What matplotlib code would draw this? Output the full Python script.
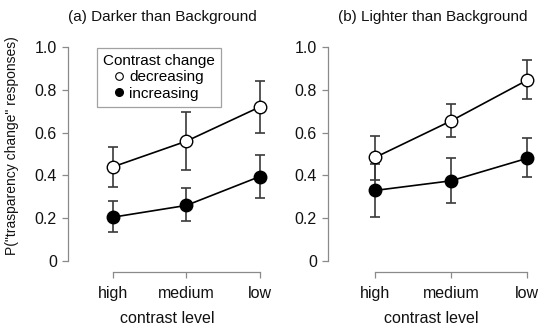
import matplotlib
matplotlib.use("Agg")
import matplotlib.pyplot as plt
from matplotlib.lines import Line2D

plt.rcParams["font.family"] = ["Liberation Sans", "DejaVu Sans"]

levels = ["high", "medium", "low"]
x_pos = [1, 2, 3]
y_ticks = [0, 0.2, 0.4, 0.6, 0.8, 1.0]
y_tick_labels = ["0", "0.2", "0.4", "0.6", "0.8", "1.0"]

# (a) darker than background
dark_dec = [0.44, 0.56, 0.72]
dark_dec_lo = [0.345, 0.425, 0.60]
dark_dec_hi = [0.535, 0.695, 0.84]
dark_inc = [0.205, 0.26, 0.395]
dark_inc_lo = [0.135, 0.185, 0.295]
dark_inc_hi = [0.28, 0.34, 0.495]

# (b) lighter than background
light_dec = [0.484, 0.655, 0.845]
light_dec_lo = [0.38, 0.58, 0.755]
light_dec_hi = [0.585, 0.735, 0.94]
light_inc = [0.33, 0.375, 0.48]
light_inc_lo = [0.205, 0.27, 0.395]
light_inc_hi = [0.455, 0.48, 0.575]

AXIS_COL = "#8a8a8a"
ERR_COL = "#3a3a3a"

fig = plt.figure(figsize=(5.5, 3.32), dpi=100)
W, H = 550.0, 332.0


def make_axes(left_px, px_per_unit, xmin, xmax):
    bottom_px = 272.0
    top_px = 36.3
    width_px = (xmax - xmin) * px_per_unit
    ax = fig.add_axes([left_px / W, (H - bottom_px) / H, width_px / W, (bottom_px - top_px) / H])
    ax.set_xlim(xmin, xmax)
    ax.set_ylim(-0.051, 1.05)
    return ax


def draw_series(ax, y, lo, hi, face):
    yerr = [[v - l for v, l in zip(y, lo)], [h - v for v, h in zip(y, hi)]]
    ax.errorbar(x_pos, y, yerr=yerr, fmt="none", ecolor=ERR_COL, elinewidth=1.2,
                capsize=3.6, capthick=1.2, zorder=2)
    ax.plot(x_pos, y, color="black", linewidth=1.2, marker="o", markersize=9,
            markerfacecolor=face, markeredgecolor="black", markeredgewidth=1.0, zorder=3)


def style_axes(ax, title, title_x):
    for side in ["top", "right"]:
        ax.spines[side].set_visible(False)
    for side in ["left", "bottom"]:
        ax.spines[side].set_color(AXIS_COL)
        ax.spines[side].set_linewidth(0.9)
    ax.spines["left"].set_bounds(0, 1)
    ax.spines["bottom"].set_bounds(1, 3)
    ax.set_yticks(y_ticks)
    ax.set_yticklabels(y_tick_labels)
    ax.set_xticks(x_pos)
    ax.set_xticklabels(levels)
    ax.tick_params(axis="both", color=AXIS_COL, length=4, width=0.9, labelsize=11.5,
                   labelcolor="#111111")
    ax.tick_params(axis="x", pad=6)
    ax.tick_params(axis="y", pad=4)
    ax.set_xlabel("contrast level", fontsize=11.5, labelpad=7.5, color="#111111")
    fig.text(title_x / W, 1 - 17 / H, title, ha="center", va="center", fontsize=11,
             color="#111111")


ax1 = make_axes(68, 73.5, 0.39, 3.1)
draw_series(ax1, dark_dec, dark_dec_lo, dark_dec_hi, "white")
draw_series(ax1, dark_inc, dark_inc_lo, dark_inc_hi, "black")
style_axes(ax1, "(a) Darker than Background", 162)

ax2 = make_axes(328, 76.0, 0.38, 3.1)
draw_series(ax2, light_dec, light_dec_lo, light_dec_hi, "white")
draw_series(ax2, light_inc, light_inc_lo, light_inc_hi, "black")
style_axes(ax2, "(b) Lighter than Background", 433)

fig.text(12 / W, 1 - 146 / H, "P(\"trasparency change\" responses)", rotation=90,
         ha="center", va="center", fontsize=10, color="#111111")

handles = [
    Line2D([], [], linestyle="none", marker="o", markersize=5.5, markerfacecolor="white",
           markeredgecolor="black", markeredgewidth=0.8),
    Line2D([], [], linestyle="none", marker="o", markersize=5.5, markerfacecolor="black",
           markeredgecolor="black"),
]
leg = ax1.legend(handles, ["decreasing", "increasing"], title="Contrast change",
                 loc="upper left", bbox_to_anchor=((97 - 68) / 199.3, 1.0 - (48 - 36.3) / 235.7),
                 fontsize=11, title_fontsize=11, frameon=True, fancybox=False,
                 handlelength=0.6, handletextpad=0.4, borderpad=0.4, labelspacing=0.15,
                 borderaxespad=0)
leg.get_frame().set_edgecolor(AXIS_COL)
leg.get_frame().set_linewidth(0.9)

fig.savefig("out.png", dpi=100)
